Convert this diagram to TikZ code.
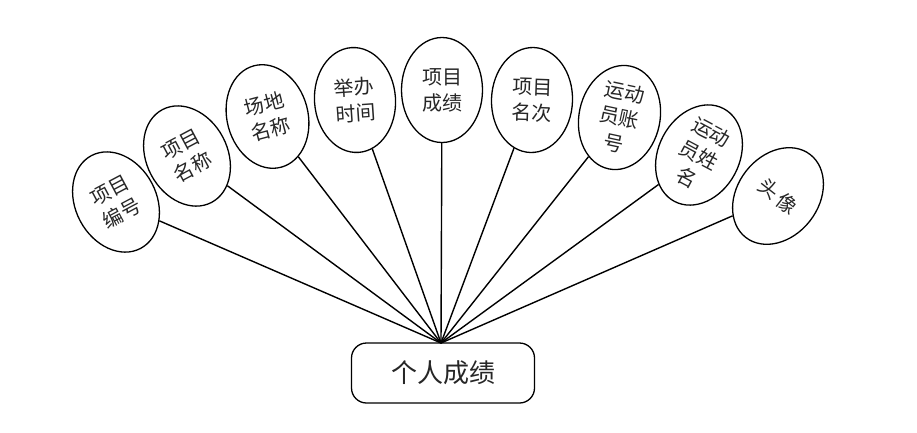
\documentclass[tikz,border=0pt]{standalone}
\usepackage{fontspec}
\newfontfamily\cjk{Noto Sans CJK SC}
\usetikzlibrary{shapes.geometric}
\tikzset{
  attr/.style={ellipse, draw, line width=1.3pt, minimum width=81pt, minimum height=105pt, inner sep=0pt},
  lbl/.style={inner sep=0pt, align=center, font=\cjk\fontsize{20}{26}\selectfont, text=black!85},
  ent/.style={rectangle, rounded corners=15pt, draw, line width=1.3pt, minimum width=183pt, minimum height=60pt, font=\cjk\fontsize{26}{30}\selectfont, text=black!85},
  link/.style={line width=1.4pt}
}
\begin{document}
\begin{tikzpicture}[x=1pt,y=-1pt]
\useasboundingbox (0,0) rectangle (917,432);
\node[ent] (pc) at (443,373) {个人成绩};
\coordinate (hub) at (441,343);
\foreach \i/\x/\y/\r/\t in {
  1/116/202/28/{项目\\编号},
  2/187/156/28/{项目\\名称},
  3/267.5/116.5/15/{场地\\名称},
  4/355/100/4/{举办\\时间},
  5/442/90/0/{项目\\成绩},
  6/532/100/-2/{项目\\名次},
  7/619.5/117.5/-12/{运动\\员账\\号},
  8/699/155/-28/{运动\\员姓\\名},
  9/778/196/-38/{头\,像}} {
  \node[attr, rotate=\r] (a\i) at (\x,\y) {};
  \node[lbl, rotate=\r] (t\i) at (a\i.center) {\t};
  \draw[link] (a\i) -- (hub);
}
\end{tikzpicture}
\end{document}
